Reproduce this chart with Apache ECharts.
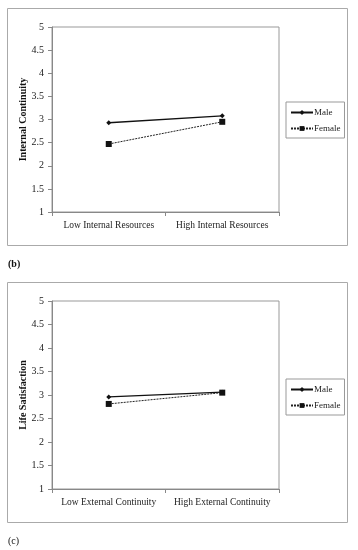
<!DOCTYPE html>
<html><head><meta charset="utf-8">
<script src="https://cdn.jsdelivr.net/npm/echarts@6/dist/echarts.min.js"></script>
<style>html,body{margin:0;padding:0;background:#fff}#c{width:358px;height:550px}</style>
</head><body><div id="c"></div>
<script>
const categoriesB = ['Low Internal Resources', 'High Internal Resources'];
const maleB = [2.93, 3.08];
const femaleB = [2.47, 2.95];
const categoriesC = ['Low External Continuity', 'High External Continuity'];
const maleC = [2.96, 3.06];
const femaleC = [2.81, 3.05];
const yTitleB = 'Internal Continuity';
const yTitleC = 'Life Satisfaction';
const seriesNames = ['Male', 'Female'];

const FONT = '"Liberation Serif", "Times New Roman", serif';
const chart = echarts.init(document.getElementById('c'), null, {renderer: 'canvas'});

function xAx(idx, cats) {
  return {
    type: 'category', gridIndex: idx, data: cats, boundaryGap: true,
    axisLine: {lineStyle: {color: '#888', width: 1}},
    axisTick: {show: true, length: 4, lineStyle: {color: '#888'}},
    axisLabel: {color: '#222', fontFamily: FONT, fontSize: 9.5, margin: 8, interval: 0}
  };
}
function yAx(idx, title) {
  return {
    type: 'value', gridIndex: idx, min: 1, max: 5, interval: 0.5,
    name: title, nameLocation: 'middle', nameGap: 24, nameMoveOverlap: false,
    nameTextStyle: {fontFamily: FONT, fontWeight: 'bold', fontSize: 10, color: '#111'},
    axisLine: {show: true, lineStyle: {color: '#888', width: 1}},
    axisTick: {show: true, length: 4, lineStyle: {color: '#888'}},
    splitLine: {show: false},
    axisLabel: {color: '#222', fontFamily: FONT, fontSize: 10, margin: 8,
      formatter: v => String(v)}
  };
}
function maleSeries(idx, data) {
  return {name: seriesNames[0], type: 'line', xAxisIndex: idx, yAxisIndex: idx, data: data,
    symbol: 'diamond', symbolSize: 5, showSymbol: true,
    lineStyle: {color: '#111', width: 1.3, type: 'solid'},
    itemStyle: {color: '#111'}, animation: false};
}
function femaleSeries(idx, data) {
  return {name: seriesNames[1], type: 'line', xAxisIndex: idx, yAxisIndex: idx, data: data,
    symbol: 'rect', symbolSize: 6, showSymbol: true,
    lineStyle: {color: '#222', width: 1, type: [2, 1]},
    itemStyle: {color: '#111'}, animation: false};
}
function legend(top) {
  return {
    orient: 'vertical', left: 286, top: top, width: 57,
    data: seriesNames, itemWidth: 22, itemHeight: 6, itemGap: 7,
    padding: [6, 4, 5, 4], borderColor: '#999', borderWidth: 1,
    textStyle: {fontFamily: FONT, fontSize: 9, color: '#222', padding: [0,0,0,-4]},
    selectedMode: false
  };
}

chart.setOption({
  animation: false,
  grid: [
    {left: 52, top: 27, width: 227, height: 185, show: true, borderColor: '#999', borderWidth: 1},
    {left: 52, top: 301, width: 227, height: 188, show: true, borderColor: '#999', borderWidth: 1}
  ],
  xAxis: [xAx(0, categoriesB), xAx(1, categoriesC)],
  yAxis: [yAx(0, yTitleB), yAx(1, yTitleC)],
  legend: [legend(102), legend(379)],
  series: [maleSeries(0, maleB), femaleSeries(0, femaleB), maleSeries(1, maleC), femaleSeries(1, femaleC)],
  graphic: [
    {type: 'rect', shape: {x: 7.5, y: 8.5, width: 340, height: 237}, style: {fill: 'none', stroke: '#aaa', lineWidth: 1}, silent: true},
    {type: 'rect', shape: {x: 7.5, y: 282.5, width: 340, height: 240}, style: {fill: 'none', stroke: '#aaa', lineWidth: 1}, silent: true},
    {type: 'text', left: 8, top: 259, style: {text: '(b)', font: 'bold 10px ' + FONT, fill: '#111'}},
    {type: 'text', left: 8, top: 536, style: {text: '(c)', font: '10px ' + FONT, fill: '#111'}}
  ]
});
</script></body></html>
